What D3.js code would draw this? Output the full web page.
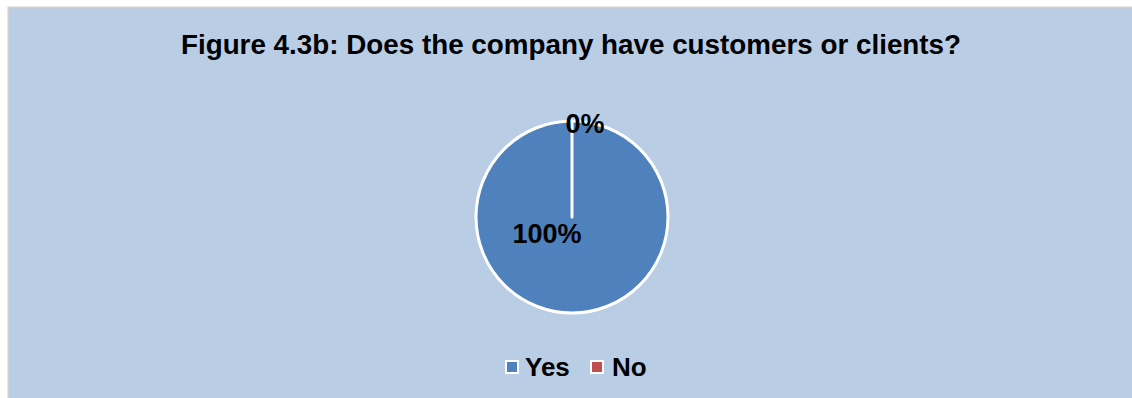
<!DOCTYPE html>
<html>
<head>
<meta charset="utf-8">
<script src="https://cdn.jsdelivr.net/npm/d3@7"></script>
<style>
  html, body { margin: 0; padding: 0; background: #ffffff; }
  svg { display: block; }
  text { font-family: "Liberation Sans", Arial, sans-serif; font-weight: bold; fill: #000; }
</style>
</head>
<body>
<svg id="chart" width="1132" height="398"></svg>
<script>
const categories = ["Yes", "No"];
const values = [100, 0];
const labels = ["100%", "0%"];
const colors = ["#4F81BD", "#C0504D"];
const title = "Figure 4.3b: Does the company have customers or clients?";

const svg = d3.select("#chart");
const W = 1132, H = 398;

// chart area with a thin grey frame
svg.append("rect")
  .attr("x", 8.5).attr("y", 7.5)
  .attr("width", W).attr("height", H)
  .attr("fill", "#B9CDE5")
  .attr("stroke", "#D0D0D0")
  .attr("stroke-width", 2);

svg.append("text")
  .attr("x", 571).attr("y", 54)
  .attr("text-anchor", "middle")
  .style("font-size", "27.8px")
  .text(title);

const cx = 572, cy = 217, r = 96;
const pie = d3.pie().sort(null).value(d => d);
const arcs = pie(values);
const arc = d3.arc().innerRadius(0).outerRadius(r);

const g = svg.append("g").attr("transform", `translate(${cx},${cy})`);
g.selectAll("path")
  .data(arcs)
  .join("path")
  .attr("d", arc)
  .attr("fill", (d, i) => colors[i])
  .attr("stroke", "#ffffff")
  .attr("stroke-width", 3)
  .attr("stroke-linejoin", "round");

// value labels
const labelPos = [[-25, 26], [13, -84]];
g.selectAll("text.val")
  .data(arcs)
  .join("text")
  .attr("class", "val")
  .attr("x", (d, i) => labelPos[i][0])
  .attr("y", (d, i) => labelPos[i][1])
  .attr("text-anchor", "middle")
  .style("font-size", "27px")
  .text((d, i) => labels[i]);

// legend
const legendItems = [{x: 506, tx: 525}, {x: 591, tx: 612}];
const lg = svg.append("g");
categories.forEach((c, i) => {
  lg.append("rect")
    .attr("x", legendItems[i].x).attr("y", 361)
    .attr("width", 12).attr("height", 12)
    .attr("fill", colors[i])
    .attr("stroke", "#ffffff")
    .attr("stroke-width", 2);
  lg.append("text")
    .attr("x", legendItems[i].tx).attr("y", 376)
    .style("font-size", "26px")
    .text(c);
});
</script>
</body>
</html>
